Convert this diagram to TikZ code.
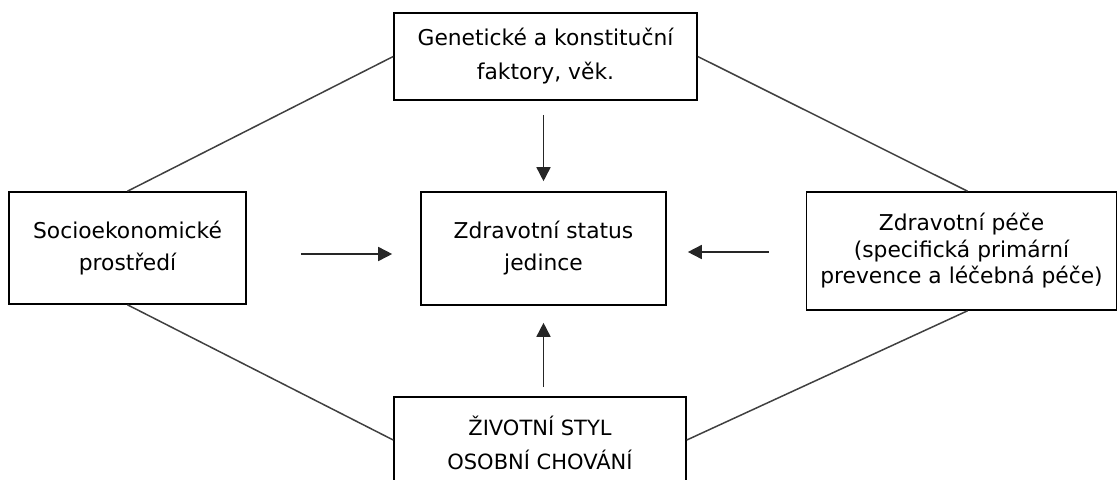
\documentclass[tikz,border=0pt]{standalone}
\usepackage{fontspec}
\setmainfont{DejaVu Sans}
\usetikzlibrary{arrows.meta}
\begin{document}
\begin{tikzpicture}[x=1pt,y=-1pt,
  box/.style={draw=black,line width=1.6pt,align=center,inner sep=0pt,font=\fontsize{21.8}{32}\selectfont},
  link/.style={draw=black!75,line width=1.5pt},
  arr/.style={draw=black!85,line width=1.6pt,-{Triangle[length=14pt,width=14pt]}}]
\useasboundingbox (0,0) rectangle (1118,479);
\clip (0,0) rectangle (1118,479);
\node[box,minimum width=303,minimum height=87,font=\fontsize{21.8}{34}\selectfont] (top) at (545.5,56.5) {Genetické a konstituční\\faktory, věk.};
\node[box,minimum width=237,minimum height=112] (left) at (127.5,248) {Socioekonomické\\prostředí};
\node[box,minimum width=245,minimum height=113] (center) at (543.5,248.5) {Zdravotní status\\jedince};
\node[box,minimum width=310,minimum height=118,font=\fontsize{21.8}{26.5}\selectfont] (right) at (961.5,251) {Zdravotní péče\\(specifická primární\\prevence a léčebná péče)};
\node[box,minimum width=292,minimum height=92,font=\fontsize{21}{34}\selectfont] (bottom) at (540,443) {ŽIVOTNÍ STYL\\OSOBNÍ CHOVÁNÍ};
\draw[link] (top.west) -- (left.north);
\draw[link] (top.east) -- ([xshift=6pt]right.north);
\draw[link] (left.south) -- ([yshift=3pt]bottom.west);
\draw[link] ([xshift=6pt]right.south) -- ([yshift=3pt]bottom.east);
\draw[arr,shorten <=14pt,shorten >=10pt] (top.south -| center.north) -- (center.north);
\draw[arr,shorten <=54pt,shorten >=28pt] ([yshift=-6pt]left.east) -- ([yshift=-6pt]left.east -| center.west);
\draw[arr,shorten <=37pt,shorten >=21pt] ([yshift=-1pt]right.west) -- ([yshift=-1pt]right.west -| center.east);
\draw[arr,shorten <=9pt,shorten >=17pt] (bottom.north -| center.south) -- (center.south);
\end{tikzpicture}
\end{document}
